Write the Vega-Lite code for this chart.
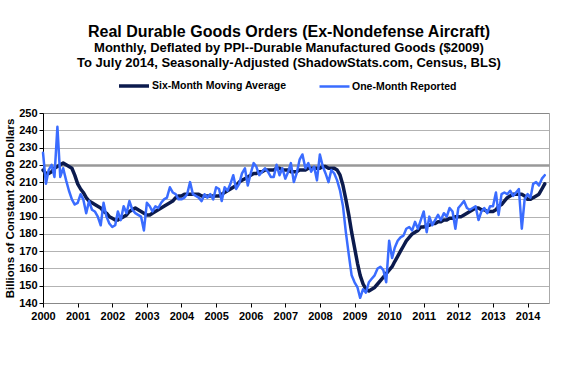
{
  "$schema": "https://vega.github.io/schema/vega-lite/v6.json",
  "width": 506,
  "height": 190,
  "autosize": "none",
  "padding": {"left": 43, "top": 113, "right": 29, "bottom": 84},
  "background": "white",
  "config": {
    "font": "Liberation Sans",
    "view": {"stroke": "#555555", "strokeDash": [1, 1], "strokeWidth": 1}
  },
  "title": {
    "text": ["Real Durable Goods Orders (Ex-Nondefense Aircraft)"],
    "subtitle": ["Monthly, Deflated by PPI--Durable Manufactured Goods ($2009)", "To July 2014, Seasonally-Adjusted (ShadowStats.com, Census, BLS)"],
    "anchor": "middle",
    "frame": "group",
    "dx": -7,
    "offset": -1,
    "fontSize": 16,
    "fontWeight": "bold",
    "color": "#000000",
    "subtitleFontSize": 13,
    "subtitleFontWeight": "bold",
    "subtitleColor": "#000000",
    "subtitleLineHeight": 15,
    "subtitlePadding": 2
  },
  "data": {"values": [
{"d":"2000-01-01","one":227,"six":217},{"d":"2000-02-01","one":209,"six":215},{"d":"2000-03-01","one":217,"six":215},{"d":"2000-04-01","one":220,"six":216},{"d":"2000-05-01","one":213,"six":218},{"d":"2000-06-01","one":242,"six":219},{"d":"2000-07-01","one":213,"six":220},{"d":"2000-08-01","one":218,"six":221},{"d":"2000-09-01","one":211,"six":220},{"d":"2000-10-01","one":205,"six":219},{"d":"2000-11-01","one":200,"six":218},{"d":"2000-12-01","one":197,"six":214},
{"d":"2001-01-01","one":198,"six":209},{"d":"2001-02-01","one":203,"six":206},{"d":"2001-03-01","one":200,"six":204},{"d":"2001-04-01","one":192,"six":201},{"d":"2001-05-01","one":199,"six":199},{"d":"2001-06-01","one":194,"six":198},{"d":"2001-07-01","one":193,"six":197},{"d":"2001-08-01","one":190,"six":196},{"d":"2001-09-01","one":185,"six":195},{"d":"2001-10-01","one":198,"six":193},{"d":"2001-11-01","one":190,"six":192},{"d":"2001-12-01","one":186,"six":190},
{"d":"2002-01-01","one":184,"six":189},{"d":"2002-02-01","one":185,"six":188},{"d":"2002-03-01","one":193,"six":188},{"d":"2002-04-01","one":188,"six":189},{"d":"2002-05-01","one":196,"six":190},{"d":"2002-06-01","one":192,"six":191},{"d":"2002-07-01","one":199,"six":193},{"d":"2002-08-01","one":194,"six":194},{"d":"2002-09-01","one":192,"six":195},{"d":"2002-10-01","one":191,"six":194},{"d":"2002-11-01","one":190,"six":193},{"d":"2002-12-01","one":182,"six":192},
{"d":"2003-01-01","one":198,"six":191},{"d":"2003-02-01","one":196,"six":191},{"d":"2003-03-01","one":193,"six":192},{"d":"2003-04-01","one":196,"six":193},{"d":"2003-05-01","one":195,"six":194},{"d":"2003-06-01","one":198,"six":195},{"d":"2003-07-01","one":200,"six":196},{"d":"2003-08-01","one":201,"six":197},{"d":"2003-09-01","one":207,"six":198},{"d":"2003-10-01","one":204,"six":199},{"d":"2003-11-01","one":203,"six":201},{"d":"2003-12-01","one":200,"six":202},
{"d":"2004-01-01","one":200,"six":202},{"d":"2004-02-01","one":201,"six":203},{"d":"2004-03-01","one":203,"six":203},{"d":"2004-04-01","one":210,"six":203},{"d":"2004-05-01","one":203,"six":203},{"d":"2004-06-01","one":202,"six":203},{"d":"2004-07-01","one":201,"six":203},{"d":"2004-08-01","one":199,"six":202},{"d":"2004-09-01","one":203,"six":202},{"d":"2004-10-01","one":201,"six":202},{"d":"2004-11-01","one":203,"six":202},{"d":"2004-12-01","one":200,"six":202},
{"d":"2005-01-01","one":207,"six":202},{"d":"2005-02-01","one":206,"six":202},{"d":"2005-03-01","one":199,"six":203},{"d":"2005-04-01","one":207,"six":204},{"d":"2005-05-01","one":205,"six":205},{"d":"2005-06-01","one":209,"six":206},{"d":"2005-07-01","one":214,"six":207},{"d":"2005-08-01","one":206,"six":208},{"d":"2005-09-01","one":209,"six":210},{"d":"2005-10-01","one":215,"six":211},{"d":"2005-11-01","one":218,"six":212},{"d":"2005-12-01","one":208,"six":213},
{"d":"2006-01-01","one":215,"six":214},{"d":"2006-02-01","one":221,"six":215},{"d":"2006-03-01","one":219,"six":215},{"d":"2006-04-01","one":214,"six":216},{"d":"2006-05-01","one":216,"six":216},{"d":"2006-06-01","one":218,"six":217},{"d":"2006-07-01","one":216,"six":217},{"d":"2006-08-01","one":213,"six":217},{"d":"2006-09-01","one":213,"six":217},{"d":"2006-10-01","one":220,"six":218},{"d":"2006-11-01","one":214,"six":218},{"d":"2006-12-01","one":218,"six":217},
{"d":"2007-01-01","one":212,"six":217},{"d":"2007-02-01","one":216,"six":217},{"d":"2007-03-01","one":221,"six":216},{"d":"2007-04-01","one":210,"six":216},{"d":"2007-05-01","one":215,"six":216},{"d":"2007-06-01","one":223,"six":217},{"d":"2007-07-01","one":226,"six":217},{"d":"2007-08-01","one":218,"six":217},{"d":"2007-09-01","one":221,"six":218},{"d":"2007-10-01","one":216,"six":218},{"d":"2007-11-01","one":219,"six":218},{"d":"2007-12-01","one":211,"six":218},
{"d":"2008-01-01","one":226,"six":218},{"d":"2008-02-01","one":219,"six":219},{"d":"2008-03-01","one":215,"six":219},{"d":"2008-04-01","one":210,"six":218},{"d":"2008-05-01","one":217,"six":218},{"d":"2008-06-01","one":215,"six":218},{"d":"2008-07-01","one":211,"six":217},{"d":"2008-08-01","one":205,"six":214},{"d":"2008-09-01","one":196,"six":208},{"d":"2008-10-01","one":181,"six":200},{"d":"2008-11-01","one":168,"six":191},{"d":"2008-12-01","one":156,"six":181},
{"d":"2009-01-01","one":152,"six":172},{"d":"2009-02-01","one":149,"six":163},{"d":"2009-03-01","one":143,"six":156},{"d":"2009-04-01","one":148,"six":151},{"d":"2009-05-01","one":146,"six":148},{"d":"2009-06-01","one":152,"six":147},{"d":"2009-07-01","one":154,"six":148},{"d":"2009-08-01","one":156,"six":149},{"d":"2009-09-01","one":160,"six":151},{"d":"2009-10-01","one":161,"six":153},{"d":"2009-11-01","one":159,"six":155},{"d":"2009-12-01","one":152,"six":157},
{"d":"2010-01-01","one":176,"six":159},{"d":"2010-02-01","one":166,"six":161},{"d":"2010-03-01","one":172,"six":164},{"d":"2010-04-01","one":176,"six":167},{"d":"2010-05-01","one":178,"six":170},{"d":"2010-06-01","one":179,"six":173},{"d":"2010-07-01","one":183,"six":176},{"d":"2010-08-01","one":184,"six":178},{"d":"2010-09-01","one":182,"six":180},{"d":"2010-10-01","one":187,"six":181},{"d":"2010-11-01","one":183,"six":182},{"d":"2010-12-01","one":188,"six":184},
{"d":"2011-01-01","one":193,"six":184},{"d":"2011-02-01","one":181,"six":185},{"d":"2011-03-01","one":190,"six":185},{"d":"2011-04-01","one":185,"six":186},{"d":"2011-05-01","one":188,"six":186},{"d":"2011-06-01","one":191,"six":187},{"d":"2011-07-01","one":188,"six":187},{"d":"2011-08-01","one":192,"six":188},{"d":"2011-09-01","one":190,"six":188},{"d":"2011-10-01","one":195,"six":189},{"d":"2011-11-01","one":193,"six":189},{"d":"2011-12-01","one":183,"six":190},
{"d":"2012-01-01","one":195,"six":190},{"d":"2012-02-01","one":197,"six":190},{"d":"2012-03-01","one":199,"six":191},{"d":"2012-04-01","one":195,"six":192},{"d":"2012-05-01","one":194,"six":193},{"d":"2012-06-01","one":195,"six":194},{"d":"2012-07-01","one":196,"six":195},{"d":"2012-08-01","one":188,"six":195},{"d":"2012-09-01","one":193,"six":194},{"d":"2012-10-01","one":195,"six":194},{"d":"2012-11-01","one":192,"six":193},{"d":"2012-12-01","one":196,"six":193},
{"d":"2013-01-01","one":196,"six":193},{"d":"2013-02-01","one":204,"six":194},{"d":"2013-03-01","one":191,"six":196},{"d":"2013-04-01","one":203,"six":197},{"d":"2013-05-01","one":204,"six":199},{"d":"2013-06-01","one":203,"six":201},{"d":"2013-07-01","one":205,"six":202},{"d":"2013-08-01","one":202,"six":203},{"d":"2013-09-01","one":204,"six":203},{"d":"2013-10-01","one":206,"six":203},{"d":"2013-11-01","one":183,"six":203},{"d":"2013-12-01","one":200,"six":202},
{"d":"2014-01-01","one":203,"six":200},{"d":"2014-02-01","one":201,"six":200},{"d":"2014-03-01","one":209,"six":201},{"d":"2014-04-01","one":210,"six":202},{"d":"2014-05-01","one":208,"six":203},{"d":"2014-06-01","one":212,"six":206},{"d":"2014-07-01","one":214,"six":209}
  ]},
  "transform": [{"fold": ["six", "one"], "as": ["series", "value"]}],
  "mark": {"type": "line", "strokeJoin": "round", "strokeCap": "round"},
  "encoding": {
    "x": {
      "field": "d", "type": "temporal",
      "scale": {"domain": ["2000-01-01", "2014-08-15"]},
      "axis": {
        "format": "%Y", "tickCount": {"interval": "year", "step": 1},
        "title": null, "grid": false, "domain": false,
        "labelFontWeight": "bold", "labelFontSize": 11, "labelColor": "#000000",
        "labelFlush": false, "labelPadding": 3, "tickColor": "#000000", "tickSize": 4
      }
    },
    "y": {
      "field": "value", "type": "quantitative",
      "scale": {"domain": [140, 250], "nice": false, "zero": false},
      "axis": {
        "values": [140, 150, 160, 170, 180, 190, 200, 210, 220, 230, 240, 250],
        "title": "Billions  of Constant 2009 Dollars",
        "titleFontWeight": "bold", "titleFontSize": 11.5, "titleColor": "#000000", "titlePadding": 3,
        "labelFontWeight": "bold", "labelFontSize": 11, "labelColor": "#000000", "labelPadding": 2,
        "domainColor": "#000000", "tickColor": "#000000", "tickSize": 4,
        "grid": true,
        "gridColor": {"condition": {"test": "datum.value == 220", "value": "#999999"}, "value": "#666666"},
        "gridDash": {"condition": {"test": "datum.value == 220", "value": []}, "value": [1, 1]},
        "gridWidth": {"condition": {"test": "datum.value == 220", "value": 2.5}, "value": 1},
        "gridOpacity": 1
      }
    },
    "color": {
      "field": "series", "type": "nominal",
      "scale": {"domain": ["six", "one"], "range": ["#0b1a4d", "#3a6cff"]},
      "legend": {
        "title": null, "orient": "none", "direction": "horizontal",
        "legendX": 74, "legendY": -44,
        "symbolType": "stroke", "symbolSize": 900, "symbolStrokeWidth": 3,
        "labelExpr": "datum.label == 'six' ? 'Six-Month Moving Average' : 'One-Month Reported'",
        "labelFontWeight": "bold", "labelFontSize": 10.5, "labelColor": "#000000",
        "labelOffset": 1, "columnPadding": 27, "labelLimit": 300
      }
    },
    "strokeWidth": {
      "field": "series", "type": "nominal",
      "scale": {"domain": ["six", "one"], "range": [3.5, 2.5]},
      "legend": null
    }
  }
}
